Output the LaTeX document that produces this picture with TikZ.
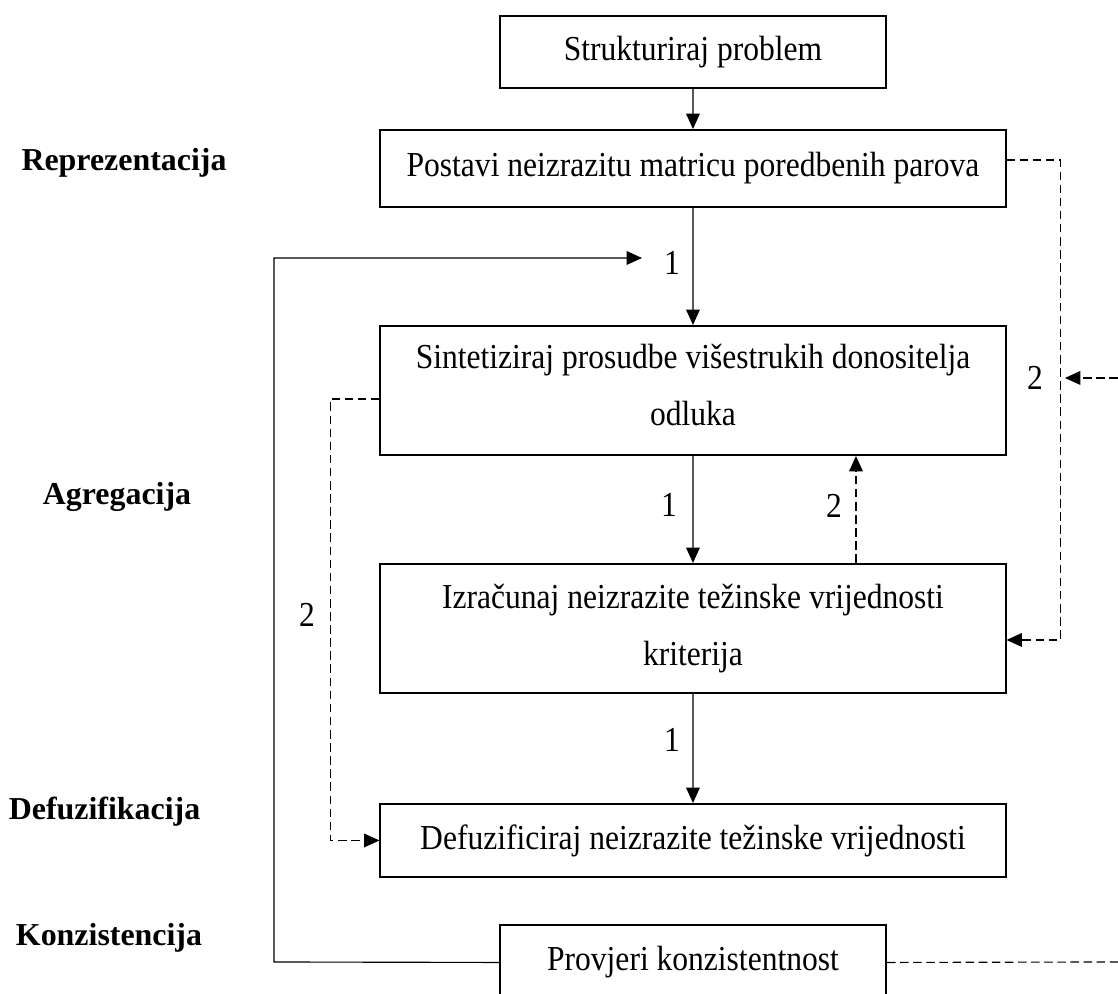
\documentclass[tikz,border=0pt]{standalone}
\usepackage{fontspec}
\setmainfont{Liberation Serif}[FakeStretch=0.9]
\newfontfamily\phasefont{Liberation Serif}
\usetikzlibrary{arrows.meta}
\begin{document}
\begin{tikzpicture}[scale=0.12337,
  every node/.style={inner sep=0pt, font=\fontsize{12.3pt}{19.7pt}\selectfont},
  box/.style={draw, line width=0.7pt, align=center, minimum width=219.4pt},
  smallbox/.style={box, minimum width=135.5pt},
  phase/.style={font=\phasefont\bfseries\fontsize{11.2pt}{14pt}\selectfont},
  arr/.style={line width=0.4pt, -{Triangle[length=5.4pt,width=4.8pt]}},
  dline/.style={line width=0.4pt, dash pattern=on 3pt off 1.6pt},
  darr/.style={dline, -{Triangle[length=5.4pt,width=4.8pt]}}]
\useasboundingbox (0,0) rectangle (111.8,-99.4);
% boxes
\node [smallbox, minimum height=25.3pt] (strukt) at (69.3,-5.2) {Strukturiraj problem};
\node [box, minimum height=27pt] (postavi) at (69.3,-16.85) {Postavi neizrazitu matricu poredbenih parova};
\node [box, minimum height=45.3pt, text depth=4pt] (sint) at (69.3,-39.05) {Sintetiziraj prosudbe višestrukih donositelja\\odluka};
\node [box, minimum height=45.3pt] (izr) at (69.3,-62.85) {Izračunaj neizrazite težinske vrijednosti\\kriterija};
\node [box, minimum height=25.6pt] (defuz) at (69.3,-84.05) {Defuzificiraj neizrazite težinske vrijednosti};
\node [smallbox, minimum height=26.3pt] (provjeri) at (69.3,-96.25) {Provjeri konzistentnost};
% phases
\node [phase] (repr) at (12.4,-16.3) {Reprezentacija};
\node [phase] (agreg) at (11.7,-49.7) {Agregacija};
\node [phase] (defph) at (10.45,-81.2) {Defuzifikacija};
\node [phase] (konz) at (10.9,-93.8) {Konzistencija};
% numbers
\node (n1a) at (67.2,-26.3) {1};
\node (n1b) at (66.9,-50.5) {1};
\node (n1c) at (67.2,-74.0) {1};
\node (n2a) at (83.4,-50.6) {2};
\node (n2b) at (30.7,-61.5) {2};
\node (n2c) at (103.5,-37.8) {2};
% helper points
\coordinate (fbend) at (64.2,-25.8);
\coordinate (rin) at (111.8,-37.8);
\coordinate (rtip) at (106.5,-37.8);
\coordinate (rout) at (111.8,-96.2);
\coordinate (upx) at (85.6,0);
\coordinate (ry1) at (0,-16.0);
\coordinate (ry2) at (0,-64.0);
\coordinate (ly1) at (0,-39.9);
% solid
\draw [arr] (strukt) -- (postavi);
\draw [arr] (postavi) -- (sint);
\draw [arr] (sint) -- (izr);
\draw [arr] (izr) -- (defuz);
\draw [arr] (provjeri.west) -- (27.4,-96.2) |- (fbend);
% dashed
\draw [darr] (izr.north -| upx) -- (sint.south -| upx);
\draw [darr] (sint.west |- ly1) -- ++(-4.9,0) |- (defuz.west);
\draw [darr] (postavi.east |- ry1) -- ++(5.4,0) |- (izr.east |- ry2);
\draw [darr] (rin) -- (rtip);
\draw [dline] (provjeri.east) -- (rout);
\end{tikzpicture}
\end{document}
